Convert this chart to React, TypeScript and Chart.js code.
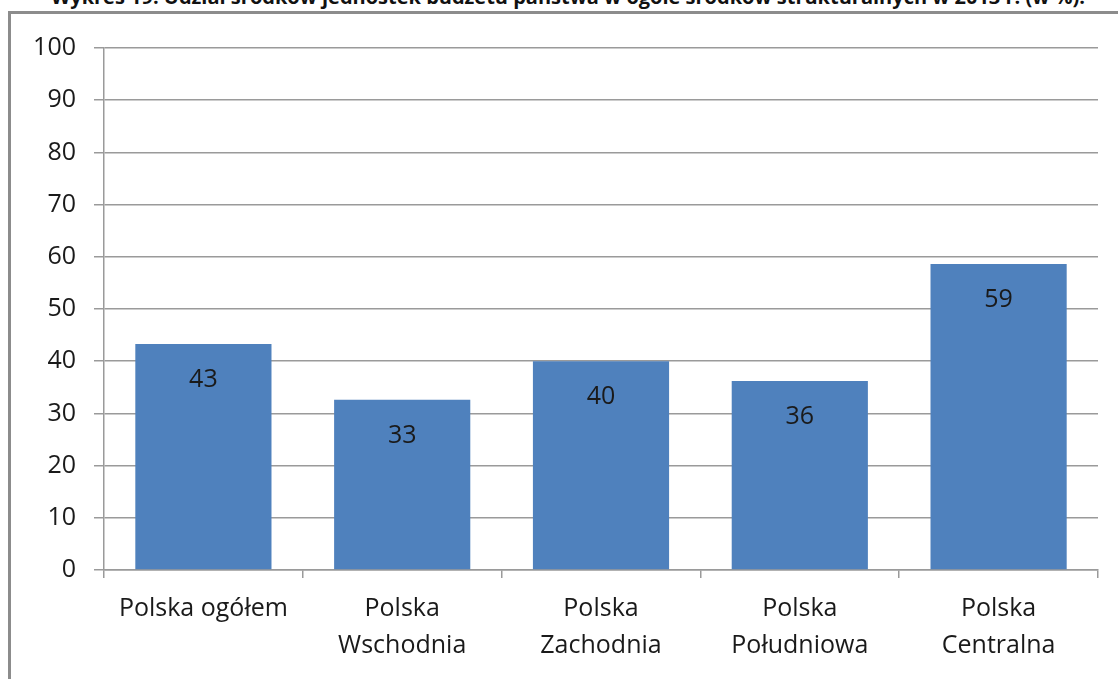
import React, { useEffect, useRef } from "react";
import { Chart, registerables } from "chart.js";

Chart.register(...registerables);

const titleText =
  "Wykres 19. Udział środków jednostek budżetu państwa w ogóle środków strukturalnych w 2013 r. (w %).";
const categories: string[][] = [
  ["Polska ogółem"],
  ["Polska", "Wschodnia"],
  ["Polska", "Zachodnia"],
  ["Polska", "Południowa"],
  ["Polska", "Centralna"],
];
const values: number[] = [43.3, 32.6, 40.0, 36.2, 58.6];
const yTicks: number[] = [0, 10, 20, 30, 40, 50, 60, 70, 80, 90, 100];

const FONT = "'Open Sans', 'Liberation Sans', sans-serif";

const labelPlugin = {
  id: "barLabels",
  afterDatasetsDraw(chart: any) {
    const ctx = chart.ctx;
    const meta = chart.getDatasetMeta(0);
    ctx.save();
    ctx.font = `25px ${FONT}`;
    ctx.fillStyle = "#1a1a1a";
    ctx.textAlign = "center";
    ctx.textBaseline = "middle";
    meta.data.forEach((bar: any, i: number) => {
      ctx.fillText(String(Math.round(values[i])), bar.x, bar.y + 36);
    });
    ctx.restore();
  },
};

export default function App() {
  const ref = useRef<HTMLCanvasElement | null>(null);
  useEffect(() => {
    if (!ref.current) return;
    const chart = new Chart(ref.current, {
      type: "bar",
      data: {
        labels: categories,
        datasets: [
          {
            data: values,
            backgroundColor: "#4F81BD",
            borderWidth: 0,
            categoryPercentage: 0.685,
            barPercentage: 1,
          },
        ],
      },
      options: {
        animation: false,
        responsive: false,
        maintainAspectRatio: false,
        layout: { padding: { left: 0, top: 48, right: 20, bottom: 0 } },
        plugins: {
          legend: { display: false },
          tooltip: { enabled: false },
          title: { display: false },
        },
        scales: {
          y: {
            min: 0,
            max: 100,
            afterFit: (s: any) => {
              s.width = 104;
            },
            afterBuildTicks: (s: any) => {
              s.ticks = yTicks.map((v) => ({ value: v }));
            },
            ticks: {
              font: { family: FONT, size: 25 },
              color: "#1a1a1a",
              padding: 18,
            },
            grid: {
              color: "#9a9a9a",
              lineWidth: 1.5,
              tickLength: 10,
            },
            border: { color: "#9a9a9a", width: 1.5 },
          },
          x: {
            afterFit: (s: any) => {
              s.height = 109;
            },
            ticks: {
              font: { family: FONT, size: 25, lineHeight: 1.5 },
              color: "#1a1a1a",
              padding: 12,
              maxRotation: 0,
            },
            grid: {
              offset: true,
              drawOnChartArea: false,
              color: "#9a9a9a",
              lineWidth: 1.5,
              tickLength: 8,
            },
            border: { color: "#9a9a9a", width: 1.5 },
          },
        },
      },
      plugins: [labelPlugin],
    });
    return () => chart.destroy();
  }, []);

  return (
    <div
      style={{
        position: "fixed",
        left: 0,
        top: 0,
        width: 1118,
        height: 679,
        overflow: "hidden",
        background: "#fff",
      }}
    >
      <div
        style={{
          position: "absolute",
          left: 0,
          top: -15,
          width: 1136,
          textAlign: "center",
          fontFamily: FONT,
          fontWeight: "bold",
          fontSize: 20,
          lineHeight: "24px",
          color: "#111",
          whiteSpace: "nowrap",
        }}
      >
        {titleText}
      </div>
      <div
        style={{
          position: "absolute",
          left: 8,
          top: 11,
          width: 1200,
          height: 800,
          borderLeft: "3px solid #8c8c8c",
          borderTop: "3px solid #8c8c8c",
          boxSizing: "border-box",
        }}
      />
      <canvas
        ref={ref}
        width={1118}
        height={679}
        style={{ position: "absolute", left: 0, top: 0 }}
      />
    </div>
  );
}
